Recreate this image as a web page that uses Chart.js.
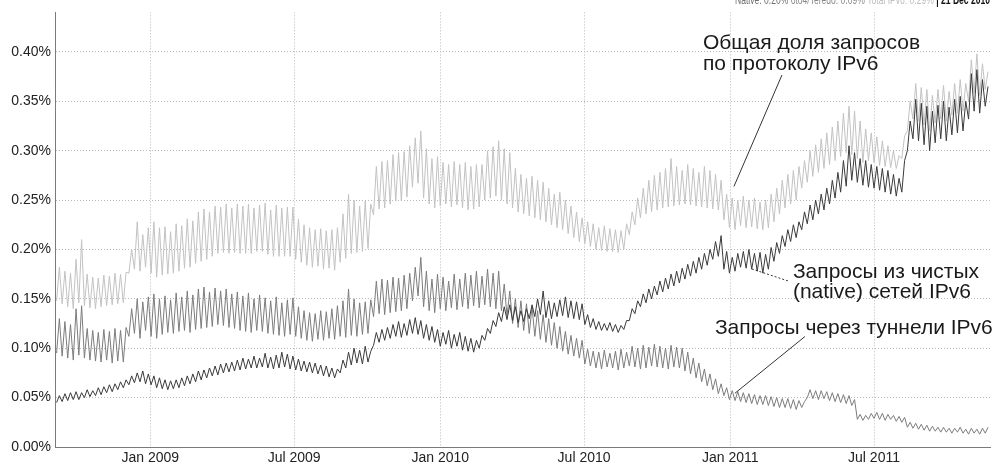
<!DOCTYPE html>
<html>
<head>
<meta charset="utf-8">
<script src="https://cdn.jsdelivr.net/npm/chart.js"></script>
<style>
  html, body { margin: 0; padding: 0; background: #fff; }
</style>
</head>
<body>
<canvas id="ipv6chart" width="998" height="464"></canvas>
<script>
// x axis runs in days from 3 Sep 2008; every series has one low and one high per week
// values are in thousandths of a percent (95 = 0.095%)
const startDay = Date.UTC(2008, 8, 3);
const endDay = Date.UTC(2011, 10, 24);

const tickDates = [Date.UTC(2009, 0, 1), Date.UTC(2009, 6, 1), Date.UTC(2010, 0, 1),
                   Date.UTC(2010, 6, 1), Date.UTC(2011, 0, 1), Date.UTC(2011, 6, 1)];
const tickLabels = ['Jan 2009', 'Jul 2009', 'Jan 2010', 'Jul 2010', 'Jan 2011', 'Jul 2011'];
const yTickValues = [0, 0.05, 0.10, 0.15, 0.20, 0.25, 0.30, 0.35, 0.40];
const yTickLabels = ['0.00%', '0.05%', '0.10%', '0.15%', '0.20%', '0.25%', '0.30%', '0.35%', '0.40%'];

// native IPv6
const nativeLow = [
  45, 46, 47, 48, 48, 50, 51, 52, 53, 55, 56, 58, 60,
  63, 65, 66, 64,
  63, 60, 59, 58, 59, 60, 62, 64, 66, 68, 70, 72, 73, 75, 76, 77, 78, 79, 80, 80, 81, 80, 79, 80, 81, 79,
  78, 77, 76, 75, 74, 72, 71, 70, 75, 80, 83, 85, 84, 86,
  103, 106, 108, 110, 112, 111, 113, 115, 114, 110, 108, 106,
  102, 104, 100, 102, 98, 97, 96, 100, 108, 115, 122, 127, 129,
  128, 126, 127, 130, 132, 134, 131, 130, 132, 133, 131, 130, 129,
  124, 121, 119, 118, 118, 117, 116, 119,
  128, 135, 142, 146, 150, 154, 157, 160, 163, 166, 170, 173, 176, 180, 184, 190, 193, 180,
  176, 178, 182, 181, 180, 178, 176, 180, 188, 196, 203, 208, 212,
  220, 226, 230, 236, 240, 246, 252, 258, 264,
  270, 268, 265, 263, 262, 260, 258, 256, 254, 258,
  300, 312, 310, 306, 300, 308, 312, 310, 316, 318, 320,
  332, 340, 338, 345
];
const nativeHigh = [
  52, 54, 55, 56, 55, 58, 57, 60, 61, 63, 64, 66, 68,
  72, 75, 77, 74,
  72, 70, 68, 67, 68, 70, 72, 74, 77, 78, 80, 82, 84, 85, 86, 88, 90, 89, 92, 90, 95, 91, 93, 96, 94, 92,
  89, 87, 86, 85, 83, 82, 80, 79, 88, 96, 100, 98, 102, 97,
  116, 119, 121, 124, 127, 125, 129, 131, 128, 124, 122, 119,
  116, 118, 114, 116, 112, 110, 108, 113, 120, 128, 136, 142, 144,
  142, 138, 140, 144, 150, 158, 148, 146, 149, 152, 148, 147, 145,
  134, 130, 127, 125, 126, 124, 123, 128,
  140, 148, 155, 160, 163, 168, 171, 175, 178, 181, 185, 188, 192, 196, 200, 208, 214, 198,
  192, 196, 198, 200, 196, 197, 195, 202, 207, 214, 220, 225, 228,
  238, 245, 250, 256, 262, 270, 278, 290, 305,
  298, 292, 290, 286, 284, 282, 280, 276, 272, 290,
  330, 352, 348, 345, 340, 346, 350, 344, 352, 355, 350,
  378, 382, 372, 365
];

// 6to4 / Teredo tunnels
const tunnelLow = [
  95, 92, 90, 88, 93, 90, 88, 87, 86, 88, 85, 87, 86,
  112, 115, 110, 118,
  112, 110, 114, 116, 115, 117, 118, 116, 119, 120, 121, 122, 124, 123, 121, 120, 118, 117, 116, 118, 117, 115, 114, 113, 112, 114,
  112, 110, 108, 107, 109, 108, 110, 109, 112, 111, 113, 112, 114, 115,
  132, 135, 134, 136, 137, 138, 140, 148, 153, 142, 138, 136,
  140, 138, 141, 139, 142, 140, 143, 141, 144, 142, 140, 138, 133,
  125, 121, 118, 115, 112, 109, 106, 103, 100, 97, 94, 92, 90,
  84, 82, 80, 79, 81, 80, 78, 80, 82, 81, 79, 80, 82, 81, 80, 79, 81, 80, 77, 74, 70, 66, 62, 58, 54, 52,
  48, 47, 46, 45, 44, 43, 43, 42, 41, 40, 40, 39, 38,
  40, 50, 49, 48, 49, 47, 46, 45, 44,
  42, 28, 27, 28, 29, 28, 27, 28, 26, 25,
  20, 19, 18, 17, 16, 16, 15, 15, 14, 15, 14, 13, 14, 13, 14
];
const tunnelHigh = [
  130, 127, 124, 140, 143, 120, 118, 116, 119, 117, 120, 118, 121,
  140, 150, 147, 152,
  155, 150, 153, 149, 156, 152, 158, 154, 160, 162, 157, 161, 158, 160, 155, 157, 153, 156, 150, 154, 151, 148, 152, 146, 149, 151,
  142, 138, 136, 135, 138, 137, 140, 143, 148, 160, 150, 146, 147, 149,
  168, 170, 169, 172, 171, 174, 176, 182, 192, 178, 170, 175,
  172, 168, 175, 170, 176, 174, 178, 173, 180, 176, 178, 165, 158,
  150, 148, 145, 142, 138, 134, 130, 126, 122, 117, 113, 110, 108,
  99, 97, 96, 98, 95, 97, 99, 96, 102, 100, 103, 101, 104, 102, 100, 103, 101, 100, 96, 90, 85, 79, 74, 69, 64, 60,
  57, 56, 55, 54, 53, 52, 52, 51, 50, 49, 49, 48, 47,
  46, 58, 57, 57, 56, 55, 54, 53, 52,
  48, 33, 32, 34, 35, 34, 33, 32, 31, 30,
  25, 24, 23, 22, 21, 20, 20, 19, 19, 20, 18, 19, 18, 19, 20
];

// total IPv6
const totalLow = [
  148, 145, 142, 140, 146, 143, 141, 140, 142, 143, 144, 145, 146,
  176, 180, 178, 182,
  176, 172, 174, 175, 176, 178, 181, 182, 186, 188, 190, 193, 196, 197, 196, 197, 196, 196, 196, 198, 198, 195, 193, 193, 193, 193,
  190, 187, 184, 182, 183, 180, 181, 179, 187, 191, 196, 197, 198, 201,
  235, 241, 242, 246, 249, 249, 253, 263, 267, 252, 246, 242,
  244, 246, 243, 245, 242, 240, 241, 243, 250, 252, 254, 250, 246,
  242, 238, 236, 234, 232, 230, 228, 225, 222, 220, 216, 212, 208,
  206, 203, 200, 199, 198, 198, 197, 200,
  215, 225, 232, 236, 238, 240, 242, 243, 244, 245, 246, 245, 244, 243, 242, 241, 240, 230,
  222, 220, 224, 222, 223, 221, 220, 222, 228, 236, 242, 246, 250,
  262, 268, 274, 278, 282, 286, 290, 294, 298,
  296, 292, 288, 290, 288, 285, 284, 283, 282, 292,
  320, 332, 330, 326, 320, 328, 332, 330, 336, 338, 340,
  350, 358, 356, 362
];
const totalHigh = [
  182, 178, 176, 190, 210, 175, 172, 171, 174, 173, 176, 175, 177,
  200, 228, 215, 222,
  228, 222, 223, 218, 226, 224, 231, 229, 238, 241, 238, 244, 243, 246, 242, 246, 244, 246, 242, 245, 247, 240, 245, 242, 243, 243,
  231, 225, 222, 220, 221, 219, 220, 222, 236, 256, 250, 244, 249, 246,
  284, 289, 290, 296, 298, 299, 305, 313, 320, 302, 292, 294,
  288, 286, 289, 286, 288, 284, 286, 286, 300, 304, 310, 302, 298,
  282, 276, 272, 274, 270, 268, 262, 256, 258, 250, 244, 238, 232,
  228, 226, 222, 224, 221, 220, 219, 226,
  238, 252, 262, 270, 275, 278, 282, 292, 284, 280, 286, 282, 278, 284, 280, 276, 270, 256,
  252, 250, 254, 250, 252, 248, 250, 256, 262, 270, 276, 280, 284,
  290, 300, 306, 312, 318, 324, 330, 338, 345,
  340, 330, 322, 318, 314, 310, 305, 300, 295, 315,
  350, 368, 364, 362, 356, 362, 366, 360, 368, 372, 368,
  392, 398, 388, 380
];

const DAY = 86400000;
const dayOf = t => (t - startDay) / DAY;

// weekday low, then weekend high
function weekly(low, high) {
  const pts = [];
  const n = Math.min(low.length, high.length);
  for (let i = 0; i < n; i++) {
    pts.push({ x: i * 7 + 2, y: low[i] / 1000 });
    pts.push({ x: i * 7 + 5.5, y: high[i] / 1000 });
  }
  return pts;
}

// captions with their leader lines, placed in data units (days, percent)
const notes = [
  { text: ['Общая доля запросов', 'по протоколу IPv6'], at: [815.7, 0.4028], step: 21,
    line: [915.1, 0.3766, 854.7, 0.2638], dash: [] },
  { text: ['Запросы из чистых', '(native) сетей IPv6'], at: [928.9, 0.1712], step: 20,
    line: [922.6, 0.1682, 877.3, 0.1802], dash: [2, 2] },
  { text: ['Запросы через туннели IPv6'], at: [830.7, 0.1148], step: 0,
    line: [944.0, 0.1118, 855.9, 0.0544], dash: [] }
];

const header = [
  { t: 'Native: 0.20% ', c: '#6e6e6e', b: false },
  { t: '6to4/Teredo: 0.09% ', c: '#8a8a8a', b: false },
  { t: 'Total IPv6: 0.29% ', c: '#bdbdbd', b: false },
  { t: '| 21 Dec 2010', c: '#111', b: true }
];

const FONT = '"Liberation Sans", Arial, sans-serif';

const notesPlugin = {
  id: 'notes',
  afterDatasetsDraw(chart) {
    const ctx = chart.ctx;
    const x = chart.scales.x, y = chart.scales.y;
    ctx.save();
    notes.forEach(n => {
      ctx.strokeStyle = '#333';
      ctx.lineWidth = 1;
      ctx.setLineDash(n.dash);
      ctx.beginPath();
      ctx.moveTo(x.getPixelForValue(n.line[0]), y.getPixelForValue(n.line[1]));
      ctx.lineTo(x.getPixelForValue(n.line[2]), y.getPixelForValue(n.line[3]));
      ctx.stroke();
      ctx.setLineDash([]);
      ctx.fillStyle = '#1a1a1a';
      ctx.font = '21px ' + FONT;
      ctx.textBaseline = 'alphabetic';
      n.text.forEach((t, k) => {
        ctx.fillText(t, x.getPixelForValue(n.at[0]), y.getPixelForValue(n.at[1]) + k * n.step);
      });
    });
    ctx.restore();
  },
  afterDraw(chart) {
    // status line at the top right, cut by the top edge
    const ctx = chart.ctx;
    ctx.save();
    let total = 0;
    header.forEach(h => {
      ctx.font = (h.b ? 'bold ' : '') + '13px ' + FONT;
      h.w = ctx.measureText(h.t).width;
      total += h.w;
    });
    const left = 735, right = 990;
    ctx.translate(left, 4);
    ctx.scale((right - left) / total, 1);
    let cx = 0;
    header.forEach(h => {
      ctx.font = (h.b ? 'bold ' : '') + '13px ' + FONT;
      ctx.fillStyle = h.c;
      ctx.textBaseline = 'alphabetic';
      ctx.fillText(h.t, cx, 0);
      cx += h.w;
    });
    ctx.restore();
  }
};

const line = (label, data, color) => ({
  label: label,
  data: data,
  borderColor: color,
  borderWidth: 1,
  pointRadius: 0,
  tension: 0,
  fill: false
});

new Chart(document.getElementById('ipv6chart').getContext('2d'), {
  type: 'line',
  data: {
    datasets: [
      line('Native', weekly(nativeLow, nativeHigh), '#3a3a3a'),
      line('6to4/Teredo', weekly(tunnelLow, tunnelHigh), '#7c7c7c'),
      line('Total IPv6', weekly(totalLow, totalHigh), '#c2c2c2')
    ]
  },
  options: {
    responsive: false,
    animation: false,
    events: [],
    layout: { padding: { left: 0, right: 8, top: 10, bottom: 0 } },
    plugins: { legend: { display: false }, tooltip: { enabled: false } },
    scales: {
      x: {
        type: 'linear',
        min: 0,
        max: dayOf(endDay),
        afterBuildTicks: s => { s.ticks = tickDates.map(t => ({ value: dayOf(t) })); },
        afterFit: s => { s.height = 17; },
        ticks: {
          autoSkip: false,
          maxRotation: 0,
          padding: 3,
          color: '#222',
          font: { family: FONT, size: 14 },
          callback: (v, i) => tickLabels[i]
        },
        grid: { color: '#b8b8b8', drawTicks: false, tickLength: 0 },
        // in v4 this dash is used for the grid lines as well, which gives the dotted grid
        border: { display: true, color: '#7a7a7a', dash: [1, 2] }
      },
      y: {
        min: 0,
        max: 0.44,
        afterBuildTicks: s => { s.ticks = yTickValues.map(v => ({ value: v })); },
        afterFit: s => { s.width = 55; },
        ticks: {
          padding: 4,
          color: '#222',
          font: { family: FONT, size: 14 },
          callback: (v, i) => yTickLabels[i]
        },
        grid: { color: '#b8b8b8', drawTicks: false, tickLength: 0 },
        border: { display: true, color: '#7a7a7a', dash: [1, 2] }
      }
    }
  },
  plugins: [notesPlugin]
});
</script>
</body>
</html>
